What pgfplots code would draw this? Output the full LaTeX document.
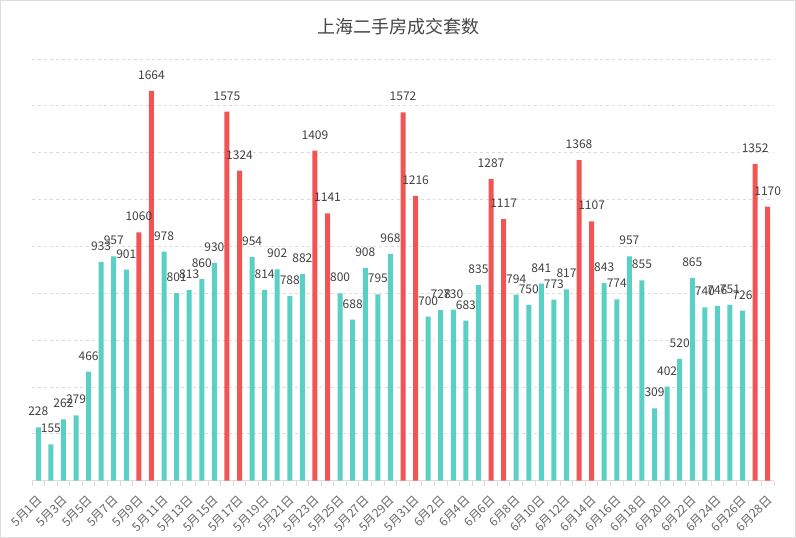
\documentclass[border=0pt]{standalone}
\usepackage{pgfplots}
\pgfplotsset{compat=1.18}
\usepackage{fontspec}
\setmainfont{Noto Sans CJK SC}
\definecolor{teal1}{HTML}{5ACFC5}
\definecolor{red1}{HTML}{F25454}
\definecolor{lbl}{HTML}{404040}
\definecolor{tick}{HTML}{666666}
\definecolor{gridc}{HTML}{DCDCDC}
\definecolor{ttl}{HTML}{464646}
\begin{document}
\begin{tikzpicture}
\useasboundingbox (0,0) rectangle (796bp,538bp);
\draw[draw=gridc, line width=1bp] (0.5bp,0.5bp) rectangle (795.5bp,537.5bp);
\node[font=\fontsize{18bp}{20bp}\selectfont, text=ttl] at (398bp,511bp) {上海二手房成交套数};
\begin{axis}[
  at={(32bp,57.3bp)}, anchor=south west,
  scale only axis, width=742bp, height=421.7bp,
  xmin=-0.5, xmax=58.5, ymin=0, ymax=1800,
  axis x line*=bottom, axis y line*=left,
  y axis line style={draw=none},
  x axis line style={draw=gridc, line width=1bp, -},
  xtick={0,2,...,58},
  xticklabels={5月1日,5月3日,5月5日,5月7日,5月9日,5月11日,5月13日,5月15日,5月17日,5月19日,5月21日,5月23日,5月25日,5月27日,5月29日,5月31日,6月2日,6月4日,6月6日,6月8日,6月10日,6月12日,6月14日,6月16日,6月18日,6月20日,6月22日,6月24日,6月26日,6月28日},
  major x tick style={draw=none},
  minor xtick={-0.5,0.5,...,58.5},
  minor x tick style={draw=gridc, line width=1bp},
  minor tick length=5bp,
  xtick align=outside,
  xticklabel style={xshift=2bp, yshift=-13bp, rotate=45, anchor=east, inner sep=0pt, font=\fontsize{12bp}{13bp}\selectfont, text=tick},
  ytick={200,400,...,1800},
  yticklabels={},
  major y tick style={draw=none},
  ymajorgrids,
  grid style={draw=gridc, dashed, line width=0.8bp},
  /pgf/number format/1000 sep={},
  /pgf/number format/assume math mode=true,
  ybar, bar width=5bp, bar shift=0pt,
  nodes near coords,
  every node near coord/.append style={anchor=base, yshift=11.5bp, font=\fontsize{12bp}{13bp}\selectfont, text=lbl, inner sep=0pt},
  clip=false,
]
\addplot[fill=teal1, draw=none] coordinates {
(0,228) (1,155) (2,262) (3,279) (4,466) (5,933) (6,957) (7,901)
(10,978) (11,801) (12,813) (13,860) (14,930)
(17,954) (18,814) (19,902) (20,788) (21,882)
(24,800) (25,688) (26,908) (27,795) (28,968)
(31,700) (32,728) (33,730) (34,683) (35,835)
(38,794) (39,750) (40,841) (41,773) (42,817)
(45,843) (46,774) (47,957) (48,855) (49,309) (50,402) (51,520) (52,865) (53,740) (54,746) (55,751) (56,726)
};
\addplot[fill=red1, draw=none] coordinates {
(8,1060) (9,1664) (15,1575) (16,1324) (22,1409) (23,1141) (29,1572) (30,1216)
(36,1287) (37,1117) (43,1368) (44,1107) (57,1352) (58,1170)
};
\end{axis}
\end{tikzpicture}
\end{document}
